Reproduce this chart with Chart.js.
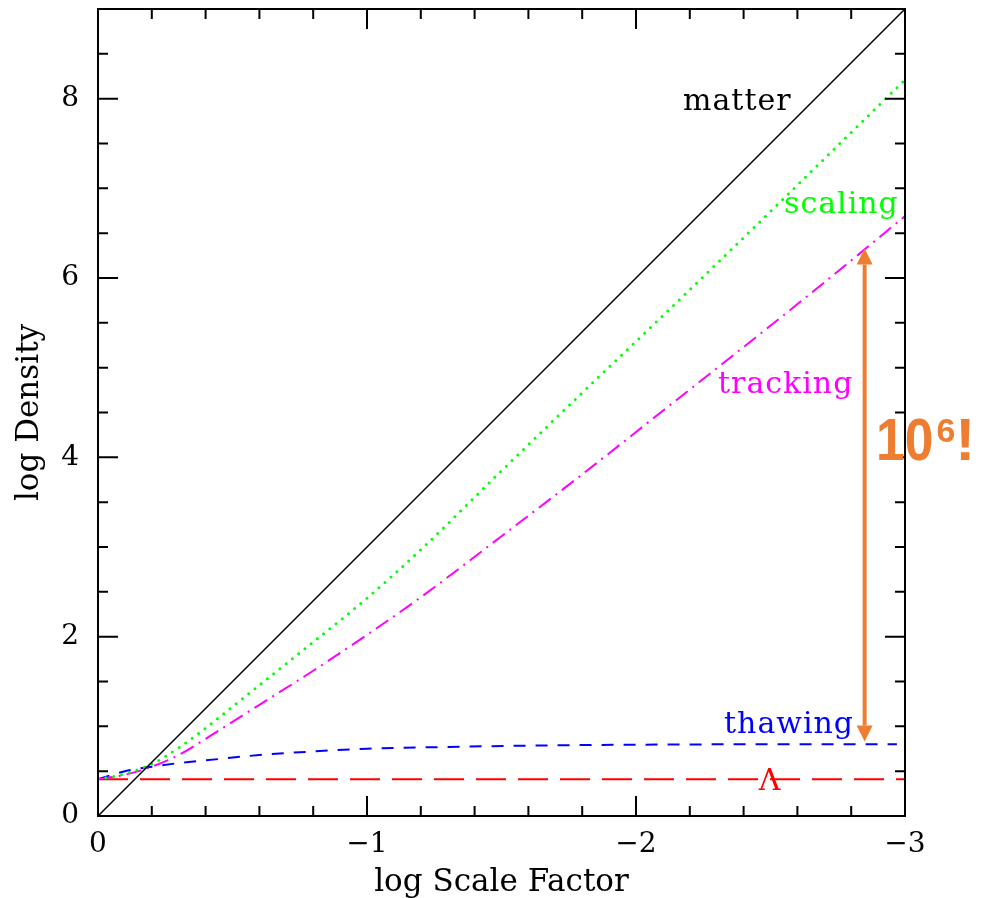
<!DOCTYPE html>
<html>
<head>
<meta charset="utf-8">
<script src="https://cdn.jsdelivr.net/npm/chart.js@4.4.0/dist/chart.umd.min.js"></script>
<style>
  html, body { margin: 0; padding: 0; background: #fff; }
</style>
</head>
<body>
<canvas id="densityChart" width="989" height="898"></canvas>
<script>
// log scale factor samples for the scaling and tracking fields
const logA = [0, -0.1, -0.2, -0.3, -0.4, -0.5, -0.6, -0.8, -1.0, -1.2, -1.5, -1.8, -2.1, -2.4, -2.7, -3.0];
const scalingRho = [0.41, 0.47, 0.58, 0.76, 0.98, 1.22, 1.46, 1.94, 2.43, 2.97, 3.85, 4.72, 5.58, 6.45, 7.33, 8.21];
const trackingRho = [0.41, 0.46, 0.55, 0.68, 0.86, 1.05, 1.24, 1.62, 2.02, 2.44, 3.12, 3.81, 4.52, 5.23, 5.95, 6.69];

const thawingA = [0, -0.1, -0.2, -0.3, -0.4, -0.6, -0.8, -1.0, -1.3, -1.6, -2.0, -2.5, -2.97];
const thawingRho = [0.41, 0.5, 0.55, 0.59, 0.62, 0.68, 0.72, 0.75, 0.77, 0.785, 0.795, 0.8, 0.8];

const matterA = [0, -3];
const matterRho = [0, 9];
const lambdaA = [0, -3];
const lambdaRho = [0.41, 0.41];

const xTicks = [0, -1, -2, -3];
const yTicks = [0, 2, 4, 6, 8];

// the 10^6 gap between tracking and thawing
const gapA = -2.85;
const gapRho = [0.83, 6.33];

const ORANGE = "#ed7d31";
const serif = "'DejaVu Serif', serif";

const toPoints = (xs, ys) => xs.map((v, i) => ({ x: v, y: ys[i] }));

const line = (label, xs, ys, color, width, dash, extra) =>
  Object.assign({
    label: label,
    data: toPoints(xs, ys),
    showLine: true,
    borderColor: color,
    borderWidth: width,
    borderDash: dash,
    pointRadius: 0,
    fill: false,
  }, extra || {});

// frame with inward ticks on all four sides, curve labels and the arrow
const decorations = {
  id: "decorations",
  afterDatasetsDraw(chart) {
    const { ctx, chartArea: a, scales: { x, y } } = chart;
    ctx.save();
    ctx.strokeStyle = "#000";
    ctx.lineWidth = 2;
    ctx.strokeRect(a.left, a.top, a.right - a.left, a.bottom - a.top);

    ctx.beginPath();
    for (let i = 0; i <= 15; i++) {
      const px = x.getPixelForValue(-i * 0.2);
      const len = i % 5 === 0 ? 20 : 10;
      ctx.moveTo(px, a.bottom); ctx.lineTo(px, a.bottom - len);
      ctx.moveTo(px, a.top); ctx.lineTo(px, a.top + len);
    }
    for (let i = 0; i <= 18; i++) {
      const py = y.getPixelForValue(i * 0.5);
      const len = i % 4 === 0 ? 20 : 10;
      ctx.moveTo(a.left, py); ctx.lineTo(a.left + len, py);
      ctx.moveTo(a.right, py); ctx.lineTo(a.right - len, py);
    }
    ctx.stroke();

    // curve names
    ctx.font = "30px " + serif;
    ctx.letterSpacing = "1px";
    ctx.textAlign = "left";
    ctx.textBaseline = "alphabetic";
    ctx.fillStyle = "#000";
    ctx.fillText("matter", 683, 110);
    ctx.fillStyle = "#00ff00";
    ctx.fillText("scaling", 784, 213);
    ctx.fillStyle = "#ff00ff";
    ctx.fillText("tracking", 718, 393);
    ctx.fillStyle = "#0000ff";
    ctx.fillText("thawing", 724, 733);
    ctx.fillStyle = "#ff0000";
    ctx.textAlign = "center";
    ctx.fillText("\u039b", 770, 790);
    ctx.letterSpacing = "0px";

    // double arrow
    const ax = x.getPixelForValue(gapA);
    const yLo = y.getPixelForValue(gapRho[0]);
    const yHi = y.getPixelForValue(gapRho[1]);
    const head = 16, half = 8;
    ctx.strokeStyle = ORANGE;
    ctx.fillStyle = ORANGE;
    ctx.lineWidth = 4;
    ctx.beginPath();
    ctx.moveTo(ax, yHi + head);
    ctx.lineTo(ax, yLo - head);
    ctx.stroke();
    ctx.beginPath();
    ctx.moveTo(ax, yHi);
    ctx.lineTo(ax - half, yHi + head);
    ctx.lineTo(ax + half, yHi + head);
    ctx.closePath();
    ctx.fill();
    ctx.beginPath();
    ctx.moveTo(ax, yLo);
    ctx.lineTo(ax - half, yLo - head);
    ctx.lineTo(ax + half, yLo - head);
    ctx.closePath();
    ctx.fill();

    // 10^6!
    ctx.textAlign = "left";
    ctx.font = "bold 60px 'Liberation Sans', Arial, sans-serif";
    const w10 = ctx.measureText("10").width * 0.86;
    ctx.save();
    ctx.translate(876, 460);
    ctx.scale(0.86, 1);
    ctx.fillText("10", 0, 0);
    ctx.restore();
    ctx.font = "bold 34px 'Liberation Sans', Arial, sans-serif";
    ctx.fillText("6", 876 + w10 + 3, 442);
    const w6 = ctx.measureText("6").width;
    ctx.font = "bold 60px 'Liberation Sans', Arial, sans-serif";
    ctx.fillText("!", 876 + w10 + w6 + 3, 460);
    ctx.restore();
  },
};

const ctx = document.getElementById("densityChart").getContext("2d");
new Chart(ctx, {
  type: "scatter",
  data: {
    datasets: [
      line("matter", matterA, matterRho, "#000000", 1.5, []),
      line("scaling", logA, scalingRho, "#00ff00", 3, [0, 8],
        { borderCapStyle: "round", cubicInterpolationMode: "monotone" }),
      line("tracking", logA, trackingRho, "#ff00ff", 2, [15, 6, 2, 6],
        { cubicInterpolationMode: "monotone" }),
      line("thawing", thawingA, thawingRho, "#0000ff", 2, [12, 10],
        { cubicInterpolationMode: "monotone" }),
      line("lambda", lambdaA, lambdaRho, "#ff0000", 2, [30, 12]),
    ],
  },
  options: {
    responsive: false,
    animation: false,
    layout: { padding: { top: 9, right: 84, bottom: 0, left: 0 } },
    plugins: {
      legend: { display: false },
      tooltip: { enabled: false },
    },
    scales: {
      x: {
        type: "linear",
        min: -3,
        max: 0,
        reverse: true,
        grid: { display: false, drawTicks: false },
        border: { display: false },
        ticks: {
          stepSize: 1,
          padding: 12,
          maxRotation: 0,
          color: "#000",
          font: { family: serif, size: 28 },
          callback: (v) => (xTicks.includes(v) ? (v === 0 ? "0" : "\u2212" + Math.abs(v)) : null),
        },
        title: {
          display: true,
          text: "log Scale Factor",
          color: "#000",
          font: { family: serif, size: 31, lineHeight: 1 },
          padding: 0,
        },
        afterFit: (s) => { s.height = 82; s.paddingLeft = 0; s.paddingRight = 0; },
      },
      y: {
        type: "linear",
        min: 0,
        max: 9,
        grid: { display: false, drawTicks: false },
        border: { display: false },
        ticks: {
          stepSize: 2,
          padding: 19,
          color: "#000",
          font: { family: serif, size: 28 },
          callback: (v) => (yTicks.includes(v) ? String(v) : null),
        },
        title: {
          display: true,
          text: "log Density",
          color: "#000",
          font: { family: serif, size: 31, lineHeight: 1 },
          padding: { top: 14, bottom: 0 },
        },
        afterFit: (s) => { s.width = 98; s.paddingTop = 0; s.paddingBottom = 0; },
      },
    },
  },
  plugins: [decorations],
});
</script>
</body>
</html>
